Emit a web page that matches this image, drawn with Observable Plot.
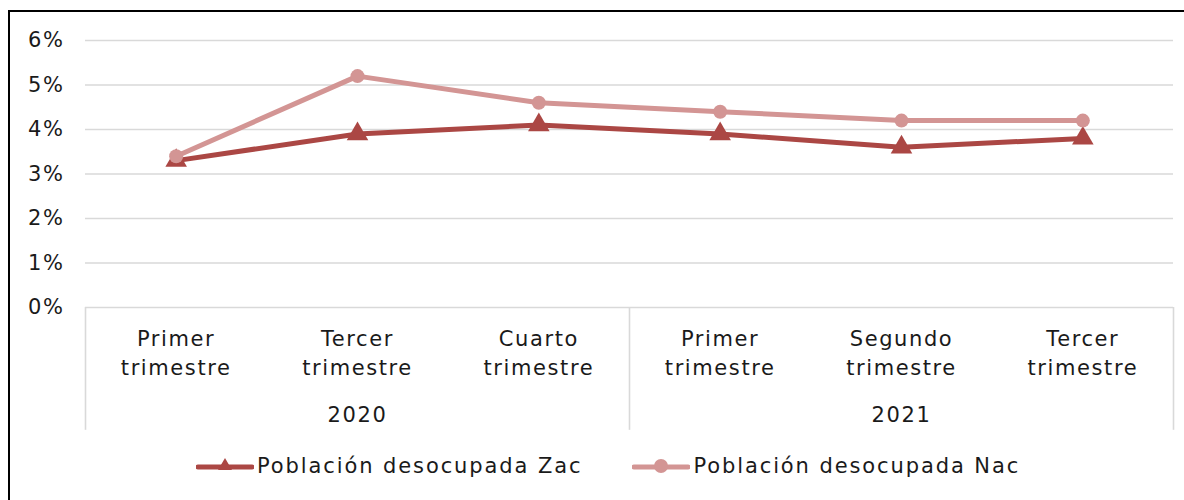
<!DOCTYPE html>
<html><head><meta charset="utf-8">
<script src="https://cdn.jsdelivr.net/npm/d3@7"></script>
<script src="https://cdn.jsdelivr.net/npm/@observablehq/plot@0.6"></script>
<style>
body{margin:0;background:#fff;font-family:"DejaVu Sans",sans-serif;width:1184px;height:500px;overflow:hidden;position:relative;}
#frame{position:absolute;left:8px;top:10px;width:1220px;height:540px;border:2px solid #000;box-sizing:border-box;pointer-events:none;}
#chart{position:absolute;left:0;top:0;}
#chart svg text{letter-spacing:1.6px;}
#legend{position:absolute;left:196px;top:452px;height:28px;display:flex;align-items:center;font-size:21px;letter-spacing:1.9px;color:#1a1a1a;white-space:nowrap;}
.item{display:flex;align-items:center;}
.item svg{display:block;}
.item span{margin-left:3px;}
</style></head>
<body>
<div id="chart"></div>
<div id="legend"></div>
<div id="frame"></div>
<script>
const quarters = ["Primer\ntrimestre","Tercer\ntrimestre","Cuarto\ntrimestre","Primer\ntrimestre","Segundo\ntrimestre","Tercer\ntrimestre"];
const years = ["2020","2020","2020","2021","2021","2021"];
const zac = [3.3, 3.9, 4.1, 3.9, 3.6, 3.8];
const nac = [3.4, 5.2, 4.6, 4.4, 4.2, 4.2];
const yTicks = [0, 1, 2, 3, 4, 5, 6];
const seriesNames = ["Población desocupada Zac", "Población desocupada Nac"];
const colors = ["#ab4744", "#d39594"];

const idx = quarters.map((_, i) => i);
// year groups
const groups = [];
years.forEach((y, i) => {
  const g = groups.find(d => d.year === y);
  if (g) g.end = i; else groups.push({year: y, start: i, end: i});
});
const seps = [-0.5, ...groups.map(g => g.end + 0.5)];
const groupCenters = groups.map(g => ({year: g.year, x: (g.start + g.end) / 2}));

const font = "DejaVu Sans";
const plot = Plot.plot({
  width: 1184,
  height: 440,
  marginLeft: 85,
  marginRight: 11,
  marginTop: 40,
  marginBottom: 133,
  style: {fontFamily: font, fontSize: "21px", color: "#1a1a1a", background: "transparent"},
  x: {type: "linear", domain: [-0.5, quarters.length - 0.5], axis: null},
  y: {domain: [0, 6], axis: null},
  marks: [
    Plot.ruleY(yTicks, {stroke: "#d9d9d9", strokeWidth: 1.6}),
    Plot.ruleX(seps, {y1: 0, y2: -2.76, stroke: "#d9d9d9", strokeWidth: 1.6}),
    Plot.axisY(yTicks, {tickSize: 0, tickPadding: 21, tickFormat: d => d + "%", fontSize: 21, label: null}),
    Plot.axisX(idx, {tickSize: 0, tickPadding: 18, tickFormat: i => quarters[i], fontSize: 21, lineHeight: 1.38, label: null}),
    Plot.text(groupCenters, {x: "x", text: "year", frameAnchor: "bottom", dy: 114, fontSize: 21, fill: "#1a1a1a"}),
    Plot.line(idx, {x: i => i, y: i => zac[i], stroke: colors[0], strokeWidth: 5}),
    Plot.dot(idx, {x: i => i, y: i => zac[i], symbol: "triangle", r: 8, fill: colors[0], stroke: "none"}),
    Plot.line(idx, {x: i => i, y: i => nac[i], stroke: colors[1], strokeWidth: 5}),
    Plot.dot(idx, {x: i => i, y: i => nac[i], symbol: "circle", r: 7, fill: colors[1], stroke: "none"})
  ]
});
document.getElementById("chart").appendChild(plot);

// legend
const legend = document.getElementById("legend");
seriesNames.forEach((name, k) => {
  const item = document.createElement("div");
  item.className = "item";
  if (k > 0) item.style.marginLeft = "50px";
  const sym = k === 0
    ? `<path d="M29,4 L36,16 L22,16 Z" fill="${colors[0]}"/>`
    : `<circle cx="29" cy="12" r="7" fill="${colors[1]}"/>`;
  item.innerHTML = `<svg width="58" height="24"><line x1="2" y1="13" x2="56" y2="13" stroke="${colors[k]}" stroke-width="5" stroke-linecap="round"/>${sym}</svg><span>${name}</span>`;
  legend.appendChild(item);
});
</script>
</body></html>
